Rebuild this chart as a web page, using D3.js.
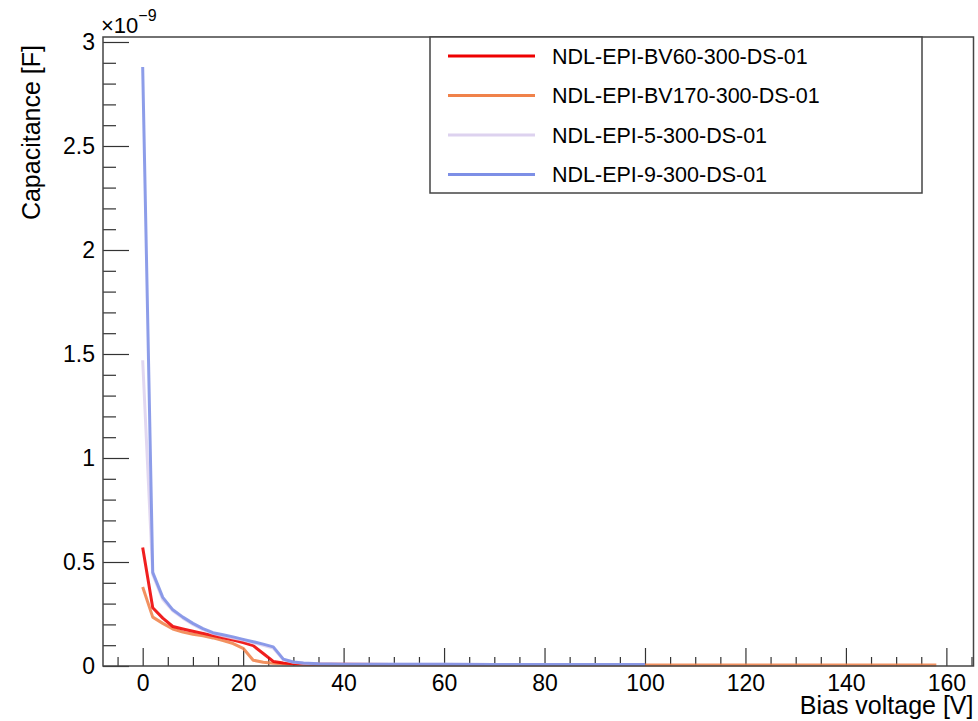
<!DOCTYPE html>
<html>
<head>
<meta charset="utf-8">
<script src="https://cdn.jsdelivr.net/npm/d3@7"></script>
<style>
  html, body { margin: 0; padding: 0; background: #fff; }
  svg { display: block; font-family: "Liberation Sans", Arial, sans-serif; }
</style>
</head>
<body>
<div id="chart"></div>
<script>
// C-V curves, capacitance in units of 1e-9 F

const seriesNames = [
  "NDL-EPI-BV60-300-DS-01",
  "NDL-EPI-BV170-300-DS-01",
  "NDL-EPI-5-300-DS-01",
  "NDL-EPI-9-300-DS-01"
];
const seriesColors = ["#ee0000", "#f0824a", "#ddd2ef", "#7d8fe6"];

const vRed = [0, 2, 4, 6, 8, 10, 12, 14, 16, 18, 20, 22, 24, 26, 28, 30, 35, 40, 50, 60, 68];
const cRed = [0.57, 0.28, 0.23, 0.19, 0.178, 0.167, 0.157, 0.147, 0.136, 0.125, 0.113, 0.098, 0.06, 0.022, 0.014, 0.011, 0.009, 0.008, 0.007, 0.007, 0.007];

const vOrange = [0, 2, 4, 6, 8, 10, 12, 14, 16, 18, 20, 22, 24, 26, 28, 30, 35, 40, 60, 80, 100, 120, 140, 158];
const cOrange = [0.38, 0.235, 0.205, 0.178, 0.163, 0.153, 0.145, 0.135, 0.122, 0.108, 0.085, 0.028, 0.018, 0.013, 0.011, 0.008, 0.007, 0.006, 0.005, 0.005, 0.005, 0.005, 0.005, 0.005];

const vPurple = [0, 2, 4, 6, 8, 10, 12, 14, 16, 18, 20, 22, 24, 26, 28, 30, 32, 35, 40, 50, 60, 70, 80, 90, 100];
const cPurple = [1.47, 0.44, 0.32, 0.265, 0.23, 0.2, 0.175, 0.157, 0.145, 0.135, 0.125, 0.112, 0.1, 0.086, 0.03, 0.018, 0.013, 0.01, 0.009, 0.008, 0.008, 0.007, 0.007, 0.007, 0.007];

const vBlue = [0, 2, 4, 6, 8, 10, 12, 14, 16, 18, 20, 22, 24, 26, 28, 30, 32, 35, 40, 50, 60, 70, 80, 90, 100];
const cBlue = [2.88, 0.45, 0.33, 0.27, 0.235, 0.205, 0.18, 0.16, 0.15, 0.14, 0.128, 0.117, 0.105, 0.092, 0.033, 0.019, 0.014, 0.011, 0.009, 0.008, 0.008, 0.007, 0.007, 0.007, 0.007];

const xMajor = [0, 20, 40, 60, 80, 100, 120, 140, 160];
const yMajor = [0, 0.5, 1, 1.5, 2, 2.5, 3];

const W = 978, H = 721;
const frame = { left: 103, right: 973.5, top: 37, bottom: 666 };

const svg = d3.select("#chart").append("svg")
  .attr("width", W)
  .attr("height", H);

const x = d3.scaleLinear().domain([-7.9, 165.4]).range([frame.left, frame.right]);
const y = d3.scaleLinear().domain([0, 3.024]).range([frame.bottom, frame.top]);

// minor ticks
const xMinor = d3.range(-5, 166, 5).filter(v => v % 20 !== 0);
const yMinor = d3.range(0, 3.02, 0.1).map(v => +v.toFixed(1)).filter(v => Math.abs(v * 2 - Math.round(v * 2)) > 1e-6);

// axes
const gx = svg.append("g")
  .attr("transform", `translate(0,${frame.bottom})`)
  .call(d3.axisBottom(x).tickValues(xMajor).tickSizeInner(-18).tickSizeOuter(0).tickPadding(8.5).tickFormat(d3.format("d")));
const gxm = svg.append("g")
  .attr("transform", `translate(0,${frame.bottom})`)
  .call(d3.axisBottom(x).tickValues(xMinor).tickSizeInner(-9).tickSizeOuter(0).tickFormat(""));

const gy = svg.append("g")
  .attr("transform", `translate(${frame.left},0)`)
  .call(d3.axisLeft(y).tickValues(yMajor).tickSizeInner(-26).tickSizeOuter(0).tickPadding(8).tickFormat(d => d === 0 ? "0" : d3.format("")(d)));
const gym = svg.append("g")
  .attr("transform", `translate(${frame.left},0)`)
  .call(d3.axisLeft(y).tickValues(yMinor).tickSizeInner(-13).tickSizeOuter(0).tickFormat(""));

[gx, gxm, gy, gym].forEach(g => {
  g.select(".domain").remove();
  g.selectAll(".tick line").attr("stroke", "#333").attr("stroke-width", 1.2);
  g.selectAll(".tick text").style("font-size", "23px").attr("fill", "#000");
});

// curves
const line = d3.line().x(d => x(d[0])).y(d => y(d[1]));
const seriesData = [
  d3.zip(vOrange, cOrange),
  d3.zip(vRed, cRed),
  d3.zip(vPurple, cPurple),
  d3.zip(vBlue, cBlue)
];
const drawOrder = [1, 0, 2, 3];

const plot = svg.append("g");
drawOrder.forEach((si, k) => {
  plot.append("path")
    .datum(seriesData[k])
    .attr("fill", "none")
    .attr("stroke", seriesColors[si])
    .attr("stroke-width", 3)
    .attr("stroke-opacity", 0.88)
    .attr("stroke-linejoin", "round")
    .attr("d", line);
});

// frame
svg.append("rect")
  .attr("x", frame.left)
  .attr("y", frame.top)
  .attr("width", frame.right - frame.left)
  .attr("height", frame.bottom - frame.top)
  .attr("fill", "none")
  .attr("stroke", "#444")
  .attr("stroke-width", 1.5);

// exponent
const expo = svg.append("text")
  .attr("x", 101)
  .attr("y", 33)
  .style("font-size", "22px");
expo.append("tspan").text("\u00d710");
expo.append("tspan").attr("dy", -12).style("font-size", "16px").text("\u22129");

// axis titles
svg.append("text")
  .attr("x", frame.right)
  .attr("y", 714)
  .attr("text-anchor", "end")
  .style("font-size", "25px")
  .text("Bias voltage [V]");

svg.append("text")
  .attr("transform", "translate(40,45) rotate(-90)")
  .attr("text-anchor", "end")
  .style("font-size", "25px")
  .text("Capacitance [F]");

// legend
const legend = svg.append("g");
legend.append("rect")
  .attr("x", 430).attr("y", 37)
  .attr("width", 492).attr("height", 156)
  .attr("fill", "#fff")
  .attr("stroke", "#444")
  .attr("stroke-width", 1.5);

const rowY = d3.scalePoint().domain(seriesNames).range([56, 174.5]);
seriesNames.forEach((name, i) => {
  legend.append("line")
    .attr("x1", 448).attr("x2", 535)
    .attr("y1", rowY(name)).attr("y2", rowY(name))
    .attr("stroke", seriesColors[i])
    .attr("stroke-width", 3);
  legend.append("text")
    .attr("x", 552)
    .attr("y", rowY(name))
    .attr("dy", "0.36em")
    .style("font-size", "21.5px")
    .text(name);
});
</script>
</body>
</html>
